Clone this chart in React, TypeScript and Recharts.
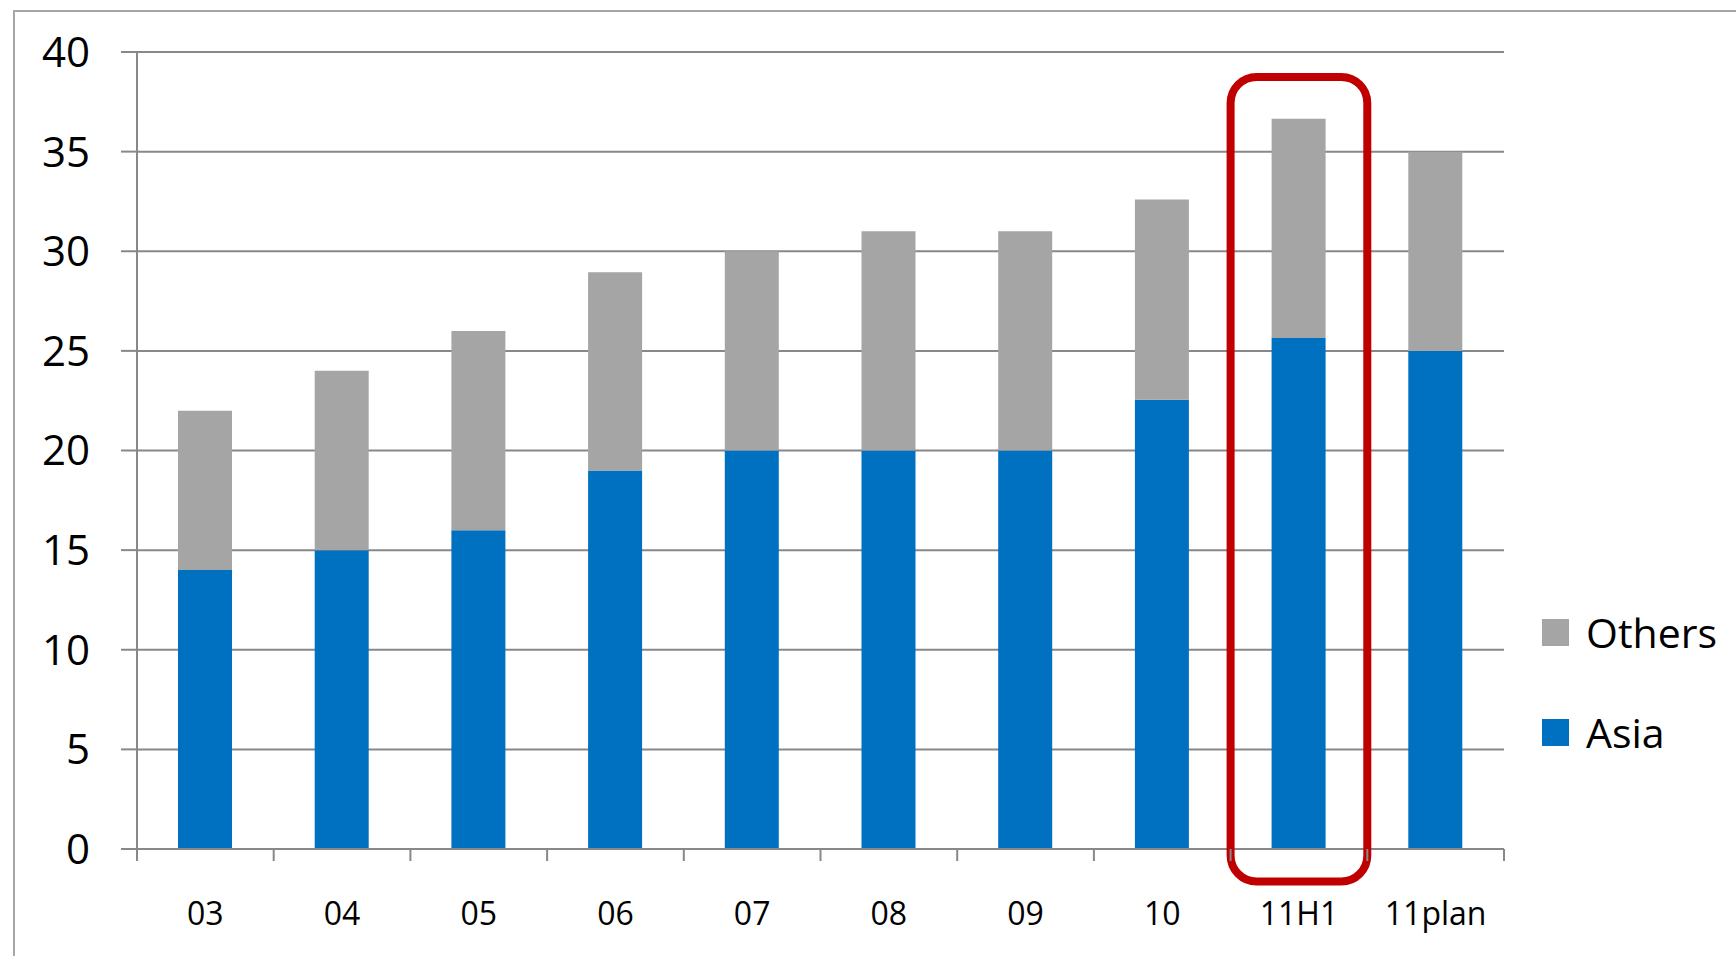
import { BarChart, Bar, XAxis, YAxis, CartesianGrid, Legend, ReferenceArea } from "recharts"

const categories = ["03", "04", "05", "06", "07", "08", "09", "10", "11H1", "11plan"]
const asia = [14, 15, 16, 19, 20, 20, 20, 22.55, 25.65, 25]
const others = [8, 9, 10, 9.95, 10, 11, 11, 10.05, 11, 10]
const yTicks = [0, 5, 10, 15, 20, 25, 30, 35, 40]

// the red frame round the first-half column
const highlightCategory = "11H1"
const highlightFrom = -1.63
const highlightTo = 38.75

const series = [
  { key: "asia", name: "Asia", color: "#0070C0" },
  { key: "others", name: "Others", color: "#A5A5A5" },
]

const data = categories.map((c, i) => ({ name: c, asia: asia[i], others: others[i] }))

const FONT = "'Open Sans', sans-serif"
const AXIS = "#888888"
const LABEL_GAP = 53
const TICK_LEN = 12

// excel-style ticks sit between categories, so draw them from the band offset
function CategoryTick(props: any) {
  const { x, y, payload, index } = props
  const half = payload.offset ?? 0
  const axisY = y - LABEL_GAP
  return (
    <g>
      <line x1={x - half} x2={x - half} y1={axisY} y2={axisY + TICK_LEN} stroke={AXIS} strokeWidth={2} />
      {index === categories.length - 1 && (
        <line x1={x + half} x2={x + half} y1={axisY} y2={axisY + TICK_LEN} stroke={AXIS} strokeWidth={2} />
      )}
      <text x={x} y={y} dy="0.71em" textAnchor="middle" fill="#000" fontSize={32} fontFamily={FONT}>
        {payload.value}
      </text>
    </g>
  )
}

function LegendBox() {
  const items = [...series].reverse()
  return (
    <div style={{ fontFamily: FONT }}>
      {items.map((s) => (
        <div key={s.key} style={{ display: "flex", alignItems: "center", height: 100 }}>
          <span style={{ width: 27, height: 27, background: s.color, marginRight: 17 }} />
          <span style={{ fontSize: 41, color: "#000", lineHeight: 1 }}>{s.name}</span>
        </div>
      ))}
    </div>
  )
}

function Frame(props: any) {
  const { x, y, width, height } = props
  return (
    <rect
      x={x}
      y={y}
      width={width}
      height={height}
      rx={26}
      ry={26}
      fill="none"
      stroke="#C00000"
      strokeWidth={8}
    />
  )
}

export default function App() {
  return (
    <div style={{ position: "absolute", left: 0, top: 0, width: 1736, height: 956, background: "#fff", overflow: "hidden" }}>
      <div
        style={{
          position: "absolute",
          left: 13,
          top: 10,
          width: 1800,
          height: 1000,
          borderLeft: "2px solid #A6A6A6",
          borderTop: "2px solid #A6A6A6",
        }}
      />
      <BarChart
        width={1736}
        height={956}
        data={data}
        margin={{ top: 52, right: 232, left: 0, bottom: 47 }}
        style={{ position: "absolute", left: 0, top: 0 }}
      >
        <CartesianGrid vertical={false} stroke={AXIS} strokeWidth={2} />
        <XAxis
          dataKey="name"
          height={60}
          tickLine={false}
          tickSize={0}
          tickMargin={LABEL_GAP}
          axisLine={{ stroke: AXIS, strokeWidth: 2 }}
          tick={<CategoryTick />}
          interval={0}
        />
        <YAxis
          width={137}
          domain={[0, 40]}
          ticks={yTicks}
          interval={0}
          tickSize={16}
          tickMargin={31}
          axisLine={{ stroke: AXIS, strokeWidth: 2 }}
          tickLine={{ stroke: AXIS, strokeWidth: 2 }}
          tick={{ fill: "#000", fontSize: 42, fontFamily: FONT }}
        />
        <Legend
          layout="vertical"
          align="center"
          verticalAlign="middle"
          content={() => <LegendBox />}
          wrapperStyle={{ position: "absolute", left: 1542, top: 582, width: 200 }}
        />
        {series.map((s) => (
          <Bar
            key={s.key}
            dataKey={s.key}
            name={s.name}
            stackId="a"
            fill={s.color}
            barSize={54}
            isAnimationActive={false}
          />
        ))}
        <ReferenceArea
          x1={highlightCategory}
          x2={highlightCategory}
          y1={highlightFrom}
          y2={highlightTo}
          ifOverflow="visible"
          zIndex={1000}
          shape={(p: any) => <Frame {...p} />}
        />
      </BarChart>
    </div>
  )
}
